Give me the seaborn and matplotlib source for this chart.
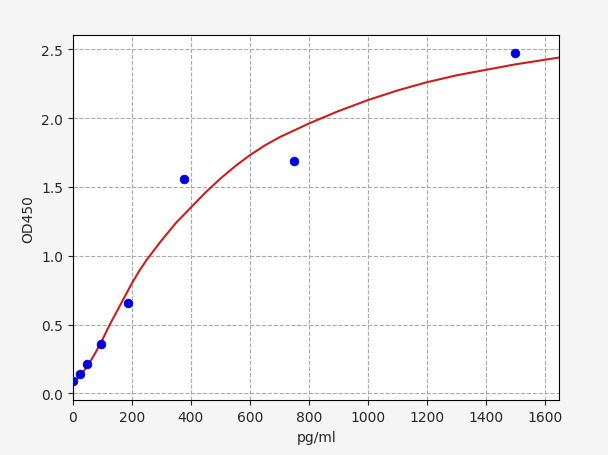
import matplotlib
matplotlib.use("Agg")
import matplotlib.pyplot as plt
import seaborn as sns

conc = [0, 23.4, 46.9, 93.75, 187.5, 375, 750, 1500]
od = [0.09, 0.14, 0.21, 0.36, 0.66, 1.56, 1.69, 2.47]

curve_x = [0, 25, 50, 75, 100, 125, 150, 175, 200, 225, 250, 275, 300, 350, 400, 450, 500, 550, 600, 650, 700, 750, 800, 900, 1000, 1100, 1200, 1300, 1400, 1500, 1650]
curve_y = [0.08, 0.13, 0.20, 0.29, 0.39, 0.50, 0.60, 0.70, 0.80, 0.89, 0.97, 1.04, 1.11, 1.24, 1.35, 1.46, 1.56, 1.65, 1.73, 1.80, 1.86, 1.91, 1.96, 2.05, 2.13, 2.20, 2.26, 2.31, 2.35, 2.39, 2.44]

sns.set_style("white")
fig, ax = plt.subplots(figsize=(6.08, 4.56), dpi=100)
fig.patch.set_facecolor("#f5f5f5")
sns.lineplot(x=curve_x, y=curve_y, ax=ax, color="#c81e1e", linewidth=1.5)
sns.scatterplot(x=conc, y=od, ax=ax, color="#0000dd", s=40, edgecolor="#0000dd", zorder=3)
ax.set_xlim(0, 1650)
ax.set_ylim(-0.05, 2.6)
ax.set_xticks(range(0, 1601, 200))
ax.set_yticks([0, 0.5, 1.0, 1.5, 2.0, 2.5])
ax.grid(True, linestyle="--", color="#aaaaaa", linewidth=0.8)
ax.set_xlabel("pg/ml")
ax.set_ylabel("OD450")
for s in ax.spines.values():
    s.set_color("black")
ax.tick_params(left=True, bottom=True)
plt.subplots_adjust(left=0.12, right=0.92, top=0.92, bottom=0.12)
fig.savefig("out.png", dpi=100, facecolor=fig.get_facecolor())
